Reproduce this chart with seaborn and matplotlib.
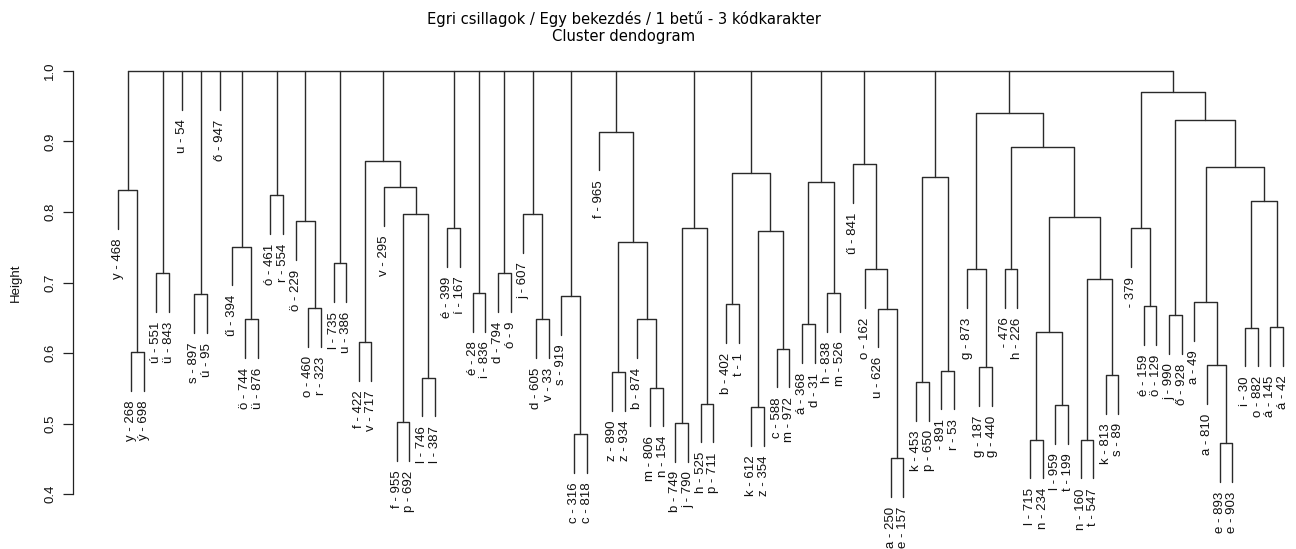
import numpy as np
import pandas as pd
import matplotlib
matplotlib.use("Agg")
import matplotlib.pyplot as plt
import seaborn as sns

# leaves in plotting order (left to right)
leaf_labels = [
    "y - 468", "y - 268", "ý - 698", "ú - 551", "ü - 843", "u - 54", "s - 897", "ú - 95",
    "ő - 947", "ű - 394", "ö - 744", "ü - 876", "ó - 461", "r - 554", "ö - 229", "o - 460",
    "r - 323", "l - 735", "u - 386", "f - 422", "v - 717", "v - 295", "f - 955", "p - 692",
    "l - 746", "l - 387", "é - 399", "í - 167", "é - 28", "i - 836", "d - 794", "ó - 9",
    "j - 607", "d - 605", "v - 33", "s - 919", "c - 316", "c - 818", "f - 965", "z - 890",
    "z - 934", "b - 874", "m - 806", "n - 154", "b - 749", "j - 790", "h - 525", "p - 711",
    "b - 402", "t - 1", "k - 612", "z - 354", "c - 588", "m - 972", "á - 368", "d - 31",
    "h - 838", "m - 526", "ű - 841", "o - 162", "u - 626", "a - 250", "e - 157", "k - 453",
    "p - 650", " - 891", "r - 53", "g - 873", "g - 187", "g - 440", " - 476", "h - 226",
    "l - 715", "n - 234", "l - 959", "t - 199", "n - 160", "t - 547", "k - 813", "s - 89",
    " - 379", "é - 159", "ö - 129", "j - 990", "ő - 928", "a - 49", "a - 810", "e - 893",
    "e - 903", "i - 30", "o - 882", "á - 145", "á - 42",
]

# merge table: a string is a leaf, an int is an earlier merge row
merge_left = [
    "y - 268", "y - 468", "ú - 551", "s - 897", "ö - 744", "ű - 394", "ó - 461", "o - 460",
    "ö - 229", "l - 735", "f - 422", "f - 955", "l - 746", 11, "v - 295", 10,
    "é - 399", "é - 28", "d - 794", "d - 605", "j - 607", "c - 316", "s - 919",
    "z - 890", "m - 806", "b - 874", 23, "f - 965", "b - 749", "h - 525", 28,
    "b - 402", "k - 612", "c - 588", 32, 31, "á - 368", "h - 838", 36,
    "a - 250", "u - 626", "o - 162", "ű - 841", "k - 453", " - 891", 43,
    "g - 187", "g - 873", " - 476", "l - 715", "l - 959", 49, "n - 160", "k - 813", 52, 51, 48, 47,
    "é - 159", " - 379", "j - 990", "e - 893", "a - 810", "a - 49", "i - 30", "á - 145", 64, 63, 60, 59,
]
merge_right = [
    "ý - 698", 0, "ü - 843", "ú - 95", "ü - 876", 4, "r - 554", "r - 323",
    7, "u - 386", "v - 717", "p - 692", "l - 387", 12, 13, 14,
    "í - 167", "i - 836", "ó - 9", "v - 33", 19, "c - 818", 21,
    "z - 934", "n - 154", 24, 25, 26, "j - 790", "p - 711", 29,
    "t - 1", "z - 354", "m - 972", 33, 34, "d - 31", "m - 526", 37,
    "e - 157", 39, 40, 41, "p - 650", "r - 53", 44,
    "g - 440", 46, "h - 226", "n - 234", "t - 199", 50, "t - 547", "s - 89", 53, 54, 55, 56,
    "ö - 129", 58, "ő - 928", "e - 903", 61, 62, "o - 882", "á - 42", 65, 66, 67, 68,
]
merge_height = [
    0.601, 0.831, 0.713, 0.683, 0.648, 0.751, 0.824, 0.664,
    0.787, 0.727, 0.615, 0.502, 0.565, 0.797, 0.835, 0.872,
    0.777, 0.685, 0.713, 0.648, 0.797, 0.485, 0.681,
    0.573, 0.551, 0.648, 0.758, 0.914, 0.501, 0.528, 0.778,
    0.669, 0.523, 0.606, 0.773, 0.856, 0.641, 0.685, 0.843,
    0.451, 0.663, 0.719, 0.868, 0.559, 0.575, 0.850,
    0.580, 0.719, 0.719, 0.477, 0.526, 0.630, 0.477, 0.569, 0.705, 0.793, 0.892, 0.941,
    0.666, 0.777, 0.654, 0.472, 0.583, 0.672, 0.636, 0.637, 0.815, 0.864, 0.930, 0.970,
]

# clusters that all join at the top
top_clusters = [1, 2, "u - 54", 3, "ő - 947", 5, 6, 8, 9, 15, 16, 17, 18, 20, 22,
                27, 30, 35, 38, 42, 45, 57, 69]
root_height = 1.0

all_heights = merge_height + [root_height]
hang = 0.1 * (max(all_heights) - min(all_heights))

leaf_x = {lab: i + 1 for i, lab in enumerate(leaf_labels)}
node_x = []
for a, b in zip(merge_left, merge_right):
    xa = leaf_x[a] if isinstance(a, str) else node_x[a]
    xb = leaf_x[b] if isinstance(b, str) else node_x[b]
    node_x.append((xa + xb) / 2)


def child_pos(c, parent_h):
    if isinstance(c, str):
        return leaf_x[c], parent_h - hang
    return node_x[c], merge_height[c]


rows = []
seg = 0
for a, b, h in zip(merge_left, merge_right, merge_height):
    xa, ya = child_pos(a, h)
    xb, yb = child_pos(b, h)
    for k, (px, py) in enumerate([(xa, ya), (xa, h), (xb, h), (xb, yb)]):
        rows.append({"seg": seg, "k": k, "x": px, "y": py})
    seg += 1

top_x = []
for c in top_clusters:
    xc, yc = child_pos(c, root_height)
    top_x.append(xc)
    rows.append({"seg": seg, "k": 0, "x": xc, "y": yc})
    rows.append({"seg": seg, "k": 1, "x": xc, "y": root_height})
    seg += 1
rows.append({"seg": seg, "k": 0, "x": min(top_x), "y": root_height})
rows.append({"seg": seg, "k": 1, "x": max(top_x), "y": root_height})

segments = pd.DataFrame(rows)

sns.set_style("white")
plt.rcParams["font.family"] = ["Liberation Sans", "DejaVu Sans"]

fig = plt.figure(figsize=(12.96, 5.49), dpi=100)
ax = fig.add_axes([72.7 / 1296, 0.0, 1 - 72.7 / 1296, 1.0])

sns.lineplot(data=segments, x="x", y="y", units="seg", estimator=None, sort=False,
             color="#2a2a2a", linewidth=1.0, ax=ax, legend=False)

for lab in leaf_labels:
    # height of the merge this leaf hangs from
    if lab in merge_left:
        h = merge_height[merge_left.index(lab)]
    elif lab in merge_right:
        h = merge_height[merge_right.index(lab)]
    else:
        h = root_height
    ax.annotate(lab, (leaf_x[lab], h - hang), xytext=(0, -7), textcoords="offset points",
                rotation=90, ha="center", va="top", fontsize=9.5, color="#111111",
                annotation_clip=False)

ax.set_xlim(-2.6, 94.02)
ax.set_ylim(0.322, 1.1007)
ax.set_yticks([0.4, 0.5, 0.6, 0.7, 0.8, 0.9, 1.0])
ax.set_yticklabels(["0.4", "0.5", "0.6", "0.7", "0.8", "0.9", "1.0"], rotation=90, va="center")
ax.tick_params(axis="y", length=7, width=0.9, pad=5, labelsize=9.5, left=True,
               color="#222222", labelcolor="#111111")
ax.set_xticks([])
ax.set_xlabel("")
ax.set_ylabel("Height", fontsize=9.5, color="#111111")
ax.yaxis.set_label_coords(-0.0414, (0.7 - 0.322) / (1.1007 - 0.322))
for side in ["top", "right", "bottom"]:
    ax.spines[side].set_visible(False)
ax.spines["left"].set_bounds(0.4, 1.0)
ax.spines["left"].set_color("#222222")
ax.spines["left"].set_linewidth(0.9)

fig.text(624 / 1296, 1 - 19 / 549, "Egri csillagok / Egy bekezdés / 1 betű - 3 kódkarakter",
         ha="center", va="center", fontsize=11.8, color="black",
         family="DejaVu Sans", fontstretch="condensed")
fig.text(624 / 1296, 1 - 36 / 549, "Cluster dendogram",
         ha="center", va="center", fontsize=11.8, color="black",
         family="DejaVu Sans", fontstretch="condensed")

fig.savefig("out.png", dpi=100)
